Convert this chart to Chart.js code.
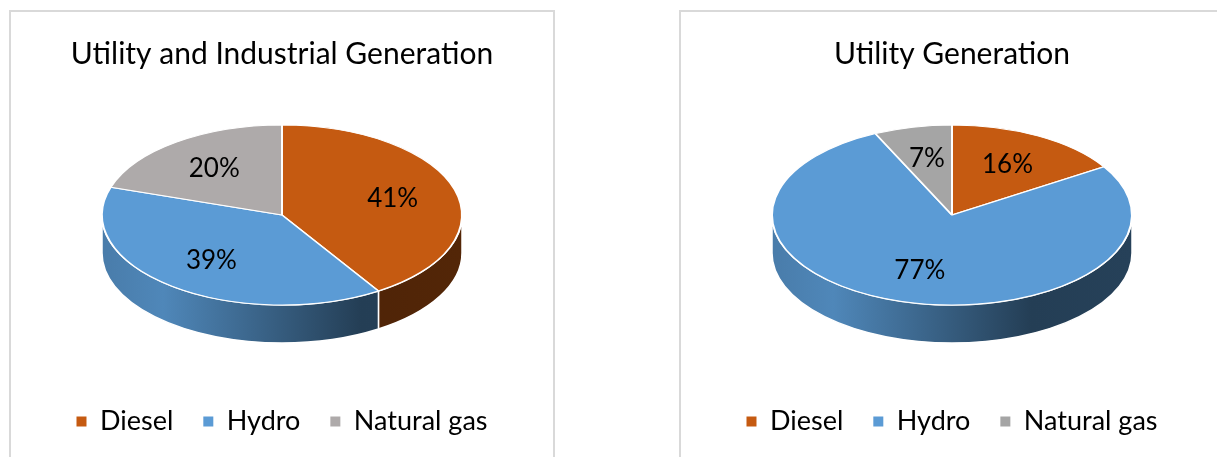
<!DOCTYPE html>
<html>
<head>
<meta charset="utf-8">
<script src="https://cdn.jsdelivr.net/npm/chart.js@4.4.1/dist/chart.umd.min.js"></script>
<style>
  body { margin: 0; background: #fff; width: 1217px; height: 457px; overflow: hidden; position: relative; }
  .panel { position: absolute; top: 10px; width: 546px; height: 460px; border: 2px solid #d9d9d9; box-sizing: border-box; background: #fff; }
  #panelLeft { left: 9px; }
  #panelRight { left: 679px; }
  canvas { display: block; }
</style>
</head>
<body>
<div class="panel" id="panelLeft"><canvas id="chartLeft" width="542" height="445"></canvas></div>
<div class="panel" id="panelRight"><canvas id="chartRight" width="542" height="445"></canvas></div>

<script>
// data
const categories = ['Diesel', 'Hydro', 'Natural gas'];
const titleLeft = 'Utility and Industrial Generation';
const titleRight = 'Utility Generation';
const sharesLeft = [41, 39, 20];
const sharesRight = [16, 77, 7];
const coloursLeft = ['#c55a11', '#5b9bd5', '#aeaaaa'];
const coloursRight = ['#c55a11', '#5b9bd5', '#a5a5a5'];

const TILT = 0.5;      // squash of the pie top
const DEPTH = 38;      // thickness of the pie
const LABEL_POS = 0.64;

Chart.defaults.font.family = 'Lato';

function shade(hex, f) {
  const n = parseInt(hex.slice(1), 16);
  const r = Math.round(((n >> 16) & 255) * f);
  const g = Math.round(((n >> 8) & 255) * f);
  const b = Math.round((n & 255) * f);
  return `rgb(${r},${g},${b})`;
}

// fake 3d: side wall + squashed top, labels on top
const pie3d = {
  id: 'pie3d',
  beforeDatasetsDraw(chart) {
    const ctx = chart.ctx;
    const meta = chart.getDatasetMeta(0);
    const colours = chart.data.datasets[0].backgroundColor;
    const first = meta.data[0];
    const cx = first.x, cy = first.y, rx = first.outerRadius, ry = rx * TILT;

    ctx.save();
    meta.data.forEach((arc, i) => {
      const a = Math.max(arc.startAngle, 0);
      const b = Math.min(arc.endAngle, Math.PI);
      if (a >= b) return;
      const grad = ctx.createLinearGradient(cx - rx, 0, cx + rx, 0);
      [[0, 0.8], [0.17, 0.87], [0.72, 0.4], [1, 0.42]].forEach(([o, f]) => grad.addColorStop(o, shade(colours[i], f)));
      ctx.beginPath();
      ctx.ellipse(cx, cy, rx, ry, 0, a, b);
      ctx.ellipse(cx, cy + DEPTH, rx, ry, 0, b, a, true);
      ctx.closePath();
      ctx.fillStyle = grad;
      ctx.fill();
      ctx.strokeStyle = '#fff';
      ctx.lineWidth = 1.5;
      ctx.stroke();
    });
    ctx.restore();

    ctx.save();
    ctx.translate(cx, cy);
    ctx.scale(1, TILT);
    ctx.translate(-cx, -cy);
  },
  afterDatasetsDraw(chart) {
    const ctx = chart.ctx;
    ctx.restore();

    const meta = chart.getDatasetMeta(0);
    const values = chart.data.datasets[0].data;
    const total = values.reduce((s, v) => s + v, 0);
    const first = meta.data[0];
    const cx = first.x, cy = first.y, rx = first.outerRadius, ry = rx * TILT;

    ctx.save();
    ctx.font = '26px Lato';
    ctx.fillStyle = '#000';
    ctx.textAlign = 'center';
    ctx.textBaseline = 'middle';
    meta.data.forEach((arc, i) => {
      const mid = (arc.startAngle + arc.endAngle) / 2;
      const x = cx + Math.cos(mid) * rx * LABEL_POS;
      const y = cy + Math.sin(mid) * ry * LABEL_POS;
      ctx.fillText(Math.round(values[i] / total * 100) + '%', x, y);
    });
    ctx.restore();
  }
};

function makeChart(id, title, values, colours) {
  return new Chart(document.getElementById(id), {
    type: 'pie',
    data: {
      labels: categories,
      datasets: [{
        data: values,
        backgroundColor: colours,
        borderColor: '#fff',
        borderWidth: 2,
        radius: 180,
        clip: false
      }]
    },
    options: {
      responsive: false,
      animation: false,
      layout: { padding: { bottom: 12 } },
      plugins: {
        title: {
          display: true,
          text: title,
          color: '#000',
          font: { size: 30, weight: 'normal' },
          padding: { top: 24, bottom: -20 }
        },
        legend: {
          position: 'bottom',
          labels: {
            color: '#000',
            font: { size: 27 },
            boxWidth: 10,
            boxHeight: 10,
            padding: 30,
            generateLabels: chart => Chart.overrides.pie.plugins.legend.labels.generateLabels(chart)
              .map(l => ({ ...l, lineWidth: 0 }))
          }
        },
        tooltip: { enabled: false }
      }
    },
    plugins: [pie3d]
  });
}

makeChart('chartLeft', titleLeft, sharesLeft, coloursLeft);
makeChart('chartRight', titleRight, sharesRight, coloursRight);
</script>
</body>
</html>
